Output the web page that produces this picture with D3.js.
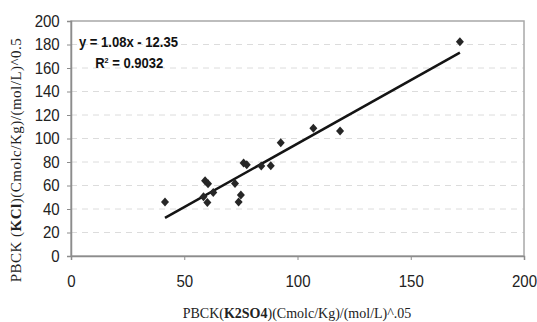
<!DOCTYPE html>
<html>
<head>
<meta charset="utf-8">
<script src="https://cdn.jsdelivr.net/npm/d3@7"></script>
<style>
  body { margin: 0; background: #fff; }
  svg { display: block; }
</style>
</head>
<body>
<svg id="chart" width="537" height="322"></svg>
<script>
// K2SO4 values (x) and KCl values (y)
const xValues = [41.5, 58.5, 59.2, 60.5, 60.2, 62.8, 72.4, 74.0, 75.0, 76.2, 77.6, 84.0, 88.2, 92.6, 107.0, 118.8, 171.7];
const yValues = [46.0, 50.5, 64.0, 61.5, 45.5, 54.0, 61.8, 46.0, 52.0, 79.2, 77.6, 76.5, 76.8, 96.4, 108.7, 106.4, 182.4];
const xTicks = [0, 50, 100, 150, 200];
const yTicks = [0, 20, 40, 60, 80, 100, 120, 140, 160, 180, 200];
const slope = 1.08, intercept = -12.35;
const equationText = 'y = 1.08x - 12.35';
const r2Value = '0.9032';

const svg = d3.select('#chart');
const m = { left: 71, right: 13, top: 21, bottom: 66 };
const W = 537, H = 322;

const x = d3.scaleLinear().domain([0, 200]).range([m.left, W - m.right]);
const y = d3.scaleLinear().domain([0, 200]).range([H - m.bottom, m.top]);

// dashed grid
svg.append('g')
  .selectAll('line')
  .data(yTicks.filter(d => d > 0 && d < 200))
  .enter().append('line')
  .attr('x1', x(0)).attr('x2', x(200))
  .attr('y1', d => y(d)).attr('y2', d => y(d))
  .attr('stroke', '#dcdcdc')
  .attr('stroke-dasharray', '6,5');

// frame
svg.append('rect')
  .attr('x', x(0)).attr('y', y(200))
  .attr('width', x(200) - x(0)).attr('height', y(0) - y(200))
  .attr('fill', 'none')
  .attr('stroke', '#a8a8a8')
  .attr('stroke-width', 1.5);

const xAxis = svg.append('g')
  .attr('transform', `translate(0,${y(0)})`)
  .call(d3.axisBottom(x).tickValues(xTicks).tickSize(4).tickPadding(16));
const yAxis = svg.append('g')
  .attr('transform', `translate(${x(0)},0)`)
  .call(d3.axisLeft(y).tickValues(yTicks).tickSize(4).tickPadding(8));

[xAxis, yAxis].forEach(a => {
  a.select('.domain').attr('stroke', '#8c8c8c').attr('stroke-width', 1.5);
  a.selectAll('.tick line').attr('stroke', '#8c8c8c');
  a.selectAll('.tick text')
    .attr('fill', '#222')
    .style('font-family', '"Liberation Sans", Arial, sans-serif')
    .style('font-size', '16px')
    .attr('transform', 'scale(0.94,1)');
});

// trend line
const x0 = d3.min(xValues), x1 = d3.max(xValues);
svg.append('line')
  .attr('x1', x(x0)).attr('y1', y(slope * x0 + intercept))
  .attr('x2', x(x1)).attr('y2', y(slope * x1 + intercept))
  .attr('stroke', '#141414')
  .attr('stroke-width', 2.5);

// points
const pts = xValues.map((v, i) => [v, yValues[i]]);
svg.append('g')
  .selectAll('path')
  .data(pts)
  .enter().append('path')
  .attr('transform', d => `translate(${x(d[0])},${y(d[1])})`)
  .attr('d', 'M0,-4.5L4,0L0,4.5L-4,0Z')
  .attr('fill', '#262626');

// equation
const eq = svg.append('g')
  .attr('transform', 'translate(79,0) scale(0.9,1)')
  .style('font-family', '"Liberation Sans", Arial, sans-serif')
  .style('font-weight', 'bold')
  .style('font-size', '14.5px')
  .attr('fill', '#111');
eq.append('text').attr('x', 0).attr('y', 47).text(equationText);
const r2 = eq.append('text').attr('x', 18).attr('y', 68);
r2.append('tspan').text('R');
r2.append('tspan').attr('dy', -5).style('font-size', '8px').text('2');
r2.append('tspan').attr('dy', 5).text(' = ' + r2Value);

// axis titles
const xt = svg.append('text')
  .attr('x', 297).attr('y', 318)
  .attr('text-anchor', 'middle')
  .attr('fill', '#222')
  .style('font-family', '"Liberation Serif", "Times New Roman", serif')
  .style('font-size', '14px');
xt.append('tspan').text('PBCK(');
xt.append('tspan').style('font-weight', 'bold').text('K2SO4');
xt.append('tspan').text(')(Cmolc/Kg)/(mol/L)^.05');

const yt = svg.append('text')
  .attr('transform', 'translate(21,160) rotate(-90)')
  .attr('text-anchor', 'middle')
  .attr('fill', '#222')
  .style('font-family', '"Liberation Serif", "Times New Roman", serif')
  .style('font-size', '15px')
  .style('letter-spacing', '0.5px');
yt.append('tspan').text('PBCK (');
yt.append('tspan').style('font-weight', 'bold').text('KCl');
yt.append('tspan').text(')(Cmolc/Kg)/(mol/L)^0.5');
</script>
</body>
</html>
